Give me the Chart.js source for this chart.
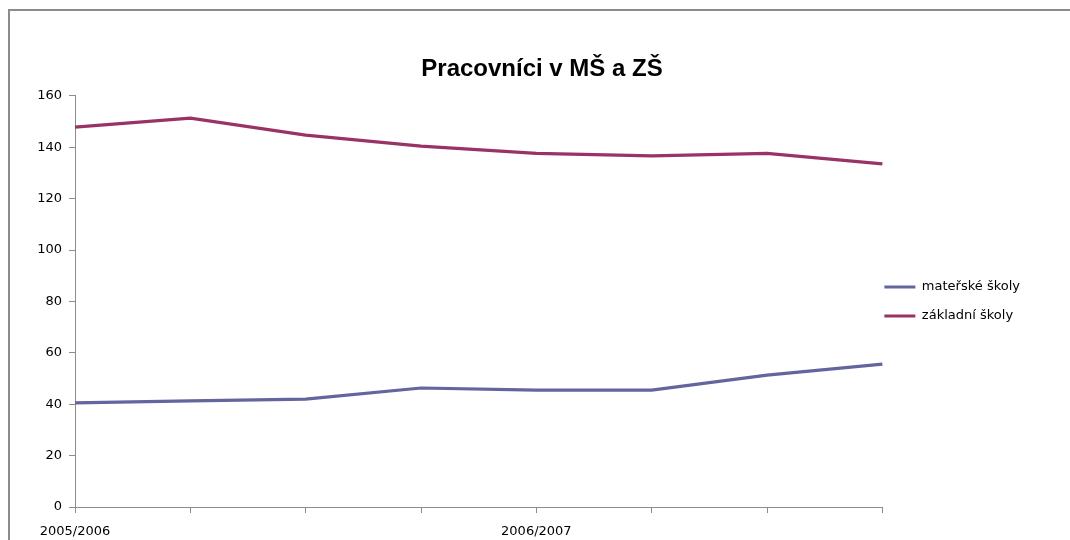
<!DOCTYPE html>
<html>
<head>
<meta charset="utf-8">
<script src="https://cdn.jsdelivr.net/npm/chart.js@4"></script>
<style>
  html, body { margin: 0; padding: 0; background: #fff; overflow: hidden; }
  #wrap { position: relative; width: 1070px; height: 540px; }
  #ramecek { position: absolute; left: 8px; top: 9px; width: 1200px; height: 700px;
             border-top: 2px solid #8c8c8c; border-left: 2px solid #8c8c8c; }
  canvas { position: absolute; left: 0; top: 0; }
</style>
</head>
<body>
<div id="wrap">
  <div id="ramecek"></div>
  <canvas id="grafPracovnici" width="1070" height="540"></canvas>
</div>
<script>
// skolni roky - popisek jen u kazdeho ctvrteho bodu
var roky = ['2005/2006', '', '', '', '2006/2007', '', '', ''];
var materskeSkoly = [40.5, 41.3, 42, 46.3, 45.5, 45.5, 51.3, 55.6];
var zakladniSkoly = [147.8, 151.3, 144.7, 140.4, 137.6, 136.6, 137.6, 133.5];
var yTicks = [0, 20, 40, 60, 80, 100, 120, 140, 160];

var osaBarva = '#8c8c8c';
var pismo = 'DejaVu Sans';

const grafElem = document.getElementById('grafPracovnici').getContext('2d');

// posun legendy a nadpisu po rozvrzeni (jako v Excelu)
const posunPlugin = {
    id: 'posun',
    afterLayout: function (chart) {
        chart.legend.left -= 14;
        chart.legend.right -= 14;
        chart.titleBlock.left += 14;
        chart.titleBlock.right += 14;
    }
};

const dataGrafu = {
    labels: roky,
    datasets: [
        {
            label: 'mateřské školy',
            data: materskeSkoly,
            borderColor: '#64649e',
            backgroundColor: '#64649e',
            borderWidth: 3.2,
            pointRadius: 0,
            tension: 0
        },
        {
            label: 'základní školy',
            data: zakladniSkoly,
            borderColor: '#993366',
            backgroundColor: '#993366',
            borderWidth: 3.2,
            pointRadius: 0,
            tension: 0
        }
    ]
};

const moznosti = {
    responsive: false,
    animation: false,
    layout: {
        padding: { left: 12, right: 26, top: 0, bottom: 0 }
    },
    plugins: {
        title: {
            display: true,
            text: 'Pracovníci v MŠ a ZŠ',
            color: '#000',
            font: { family: 'Liberation Sans', size: 24, weight: 'bold' },
            padding: { top: 55, bottom: 12 }
        },
        legend: {
            display: true,
            position: 'right',
            fullSize: false,
            labels: {
                boxWidth: 31,
                boxHeight: 3,
                padding: 16,
                color: '#000',
                font: { family: pismo, size: 13 },
                generateLabels: function (chart) {
                    var polozky = Chart.defaults.plugins.legend.labels.generateLabels(chart);
                    polozky.forEach(function (p) { p.lineWidth = 0; });
                    return polozky;
                }
            }
        },
        tooltip: { enabled: false }
    },
    scales: {
        x: {
            offset: false,
            grid: { display: true, drawOnChartArea: false, color: osaBarva, tickLength: 6 },
            border: { color: osaBarva, width: 1 },
            ticks: {
                autoSkip: false, maxRotation: 0, padding: 11,
                color: '#000', font: { family: pismo, size: 13 }
            },
            afterFit: function (s) { s.height = 33; }
        },
        y: {
            min: 0,
            max: 160,
            afterBuildTicks: function (s) { s.ticks = yTicks.map(v => ({ value: v })); },
            grid: { display: true, drawOnChartArea: false, color: osaBarva, tickLength: 6 },
            border: { color: osaBarva, width: 1 },
            ticks: { padding: 7, color: '#000', font: { family: pismo, size: 13 } },
            afterFit: function (s) { s.width = 63; }
        }
    }
};

new Chart(grafElem, {
    type: 'line',
    data: dataGrafu,
    options: moznosti,
    plugins: [posunPlugin]
});
</script>
</body>
</html>
